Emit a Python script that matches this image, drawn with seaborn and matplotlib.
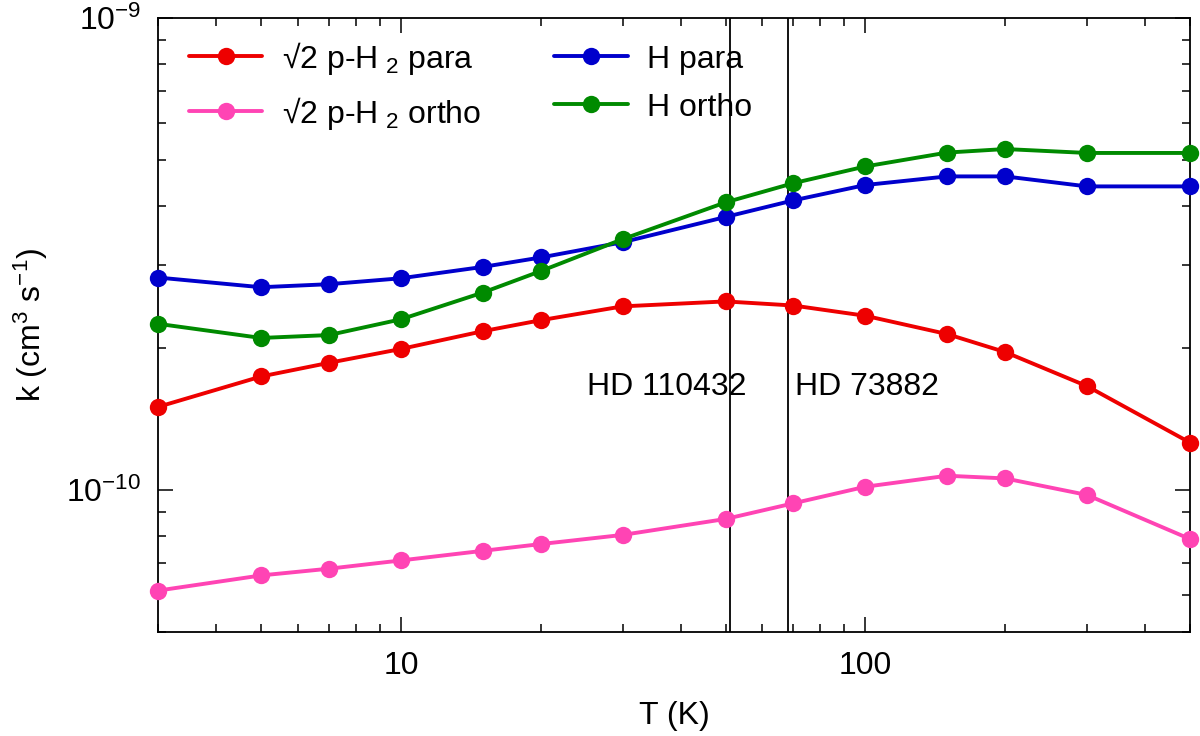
import numpy as np
import pandas as pd
import matplotlib
matplotlib.use("Agg")
import matplotlib.pyplot as plt
import matplotlib.ticker as mticker
import seaborn as sns

# temperatures (K)
temps = [3, 5, 7, 10, 15, 20, 30, 50, 70, 100, 150, 200, 300, 500]

# rate coefficients (cm^3 s^-1)
k_h2_para = [1.50e-10, 1.74e-10, 1.86e-10, 1.99e-10, 2.17e-10, 2.29e-10, 2.45e-10,
             2.51e-10, 2.46e-10, 2.34e-10, 2.14e-10, 1.96e-10, 1.66e-10, 1.26e-10]
k_h2_ortho = [6.12e-11, 6.59e-11, 6.81e-11, 7.09e-11, 7.43e-11, 7.68e-11, 8.03e-11,
              8.68e-11, 9.37e-11, 1.016e-10, 1.072e-10, 1.058e-10, 9.76e-11, 7.87e-11]
k_h_para = [2.82e-10, 2.69e-10, 2.73e-10, 2.81e-10, 2.97e-10, 3.11e-10, 3.35e-10,
            3.79e-10, 4.11e-10, 4.43e-10, 4.62e-10, 4.62e-10, 4.40e-10, 4.40e-10]
k_h_ortho = [2.25e-10, 2.10e-10, 2.13e-10, 2.30e-10, 2.62e-10, 2.91e-10, 3.40e-10,
             4.07e-10, 4.47e-10, 4.85e-10, 5.19e-10, 5.28e-10, 5.18e-10, 5.18e-10]

labels = ["√2 p-H$_{\\ 2}$ para", "√2 p-H$_{\\ 2}$ ortho", "H para", "H ortho"]
colors = ["#ee0000", "#ff44b4", "#0000cc", "#008a00"]

# stars marked on the plot
stars = ["HD 110432", "HD 73882"]
star_temps = [51, 68]

# labelled ticks
x_ticks = [10, 100]
y_ticks = [1e-10, 1e-9]

series = [k_h2_para, k_h2_ortho, k_h_para, k_h_ortho]
df = pd.concat(
    [pd.DataFrame({"T": temps, "k": vals, "series": lab}) for lab, vals in zip(labels, series)],
    ignore_index=True,
)

sns.set_style("ticks")
plt.rcParams["font.family"] = ["Liberation Sans", "DejaVu Sans"]
plt.rcParams["mathtext.default"] = "regular"
plt.rcParams["axes.unicode_minus"] = False
plt.rcParams["text.color"] = "black"
plt.rcParams["axes.labelcolor"] = "black"
plt.rcParams["xtick.color"] = "black"
plt.rcParams["ytick.color"] = "black"
plt.rcParams["axes.edgecolor"] = "black"

FS = 23

fig = plt.figure(figsize=(12, 7.36), dpi=100)
ax = fig.add_axes([0.1317, 0.1413, 0.86, 0.834])

for lab, col in zip(labels, colors):
    sns.lineplot(data=df[df["series"] == lab], x="T", y="k", color=col, label=lab,
                 marker="o", markersize=12.5, markeredgewidth=0, linewidth=2.8,
                 clip_on=False, zorder=3, ax=ax)

for t in star_temps:
    ax.axvline(t, color="black", linewidth=1.3, zorder=1)

ax.text(25.2, 1.65e-10, stars[0], fontsize=FS, va="center", ha="left")
ax.text(70.6, 1.65e-10, stars[1], fontsize=FS, va="center", ha="left")

ax.set_xscale("log")
ax.set_yscale("log")
ax.set_xlim(3, 500)
ax.set_ylim(5e-11, 1e-9)

ax.xaxis.set_major_locator(mticker.FixedLocator(x_ticks))
ax.xaxis.set_major_formatter(mticker.FuncFormatter(lambda v, p: f"{v:g}"))
ax.xaxis.set_minor_locator(mticker.LogLocator(base=10, subs=np.arange(2, 10)))
ax.xaxis.set_minor_formatter(mticker.NullFormatter())

ax.yaxis.set_major_locator(mticker.FixedLocator(y_ticks))
ax.yaxis.set_major_formatter(
    mticker.FuncFormatter(lambda v, p: f"10$^{{{int(round(np.log10(v)))}}}$"))
ax.yaxis.set_minor_locator(mticker.LogLocator(base=10, subs=np.arange(2, 10)))
ax.yaxis.set_minor_formatter(mticker.NullFormatter())

ax.tick_params(which="both", direction="in", top=True, right=True, width=1.1, labelsize=FS)
ax.tick_params(which="major", length=11)
ax.tick_params(axis="x", which="major", pad=14)
ax.tick_params(axis="y", which="major", pad=12)
ax.tick_params(which="minor", length=6)
for sp in ax.spines.values():
    sp.set_linewidth(1.3)

ax.set_xlabel("T (K)", fontsize=FS, labelpad=14)
ax.set_ylabel("k (cm$^3$ s$^{-1}$)", fontsize=FS, labelpad=12)

ax.legend(loc="upper left", bbox_to_anchor=(0.03, 0.965), ncol=2, frameon=False,
          fontsize=FS, handlelength=2.3, columnspacing=2.3, labelspacing=0.56,
          handletextpad=0.6, borderaxespad=0, borderpad=0)

fig.savefig("out.png", dpi=100)
